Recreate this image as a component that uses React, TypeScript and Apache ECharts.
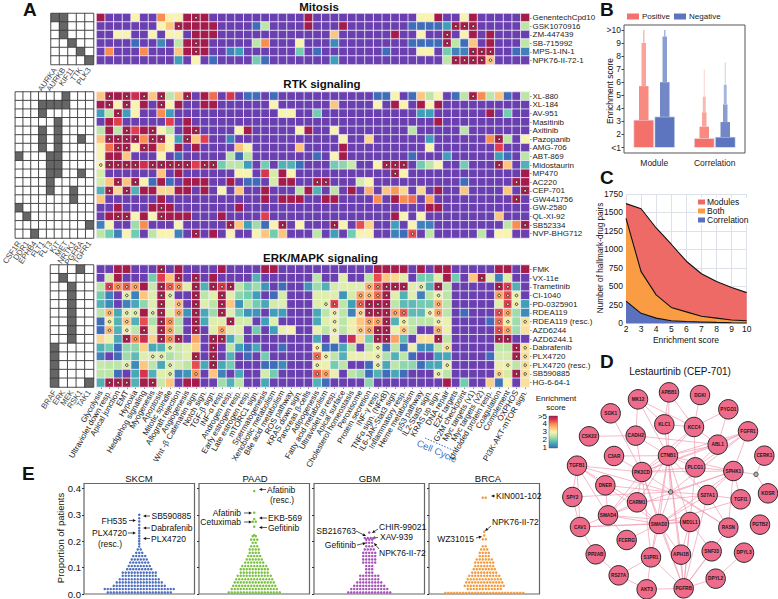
import React, { useEffect, useRef } from "react";
import * as echarts from "echarts";

const FONT = "Liberation Sans";

const hallmarks = ["Glycolysis","Ultraviolet down resp.","Apical junction","EMT","Hypoxia","Hedgehog signaling","Myogenesis","Apoptosis","Mitotic spindle","Allograft rejection","Angiogenesis","Wnt -β Catenanin sign.","Notch sign.","TGF-β sign.","INF-α resp.","Androgen resp.","Early estrogen resp.","Late estrogen resp.","mTORC1 sign.","Spermatogenesis","Xenobiotic metabolism","Bile acid metabolism","ROS pathway","KRAS down sign.","Pancreas β-cells","Adipogenesis","Fatty acid metabolism","Ultraviolet up resp.","Apical surface","Cholesterol homeostasis","Peroxisome","Protein secretion","INF-γ resp.","TNFα sign. (NFκB)","IL6-JAK-Stat3 sign.","Inflammatory resp.","Heme metabolism","p53 pathway","IL2-Stat5 sign.","KRAS up sign.","DNA repair","E2F targets","G2M checkpoint","Myc targets (v1)","Myc targets (v2)","Unfolded protein resp.","Coagulation","Complement","OXPHOS","PI3K-AKT-mTOR sign."];

const mitosisDrugs = ["GenentechCpd10","GSK1070916","ZM-447439","SB-715992","MPS-1-IN-1","NPK76-II-72-1"];
const rtkDrugs = ["XL-880","XL-184","AV-951","Masitinib","Axitinib","Pazopanib","AMG-706","ABT-869","Midostaurin","MP470","AC220","CEP-701","GW441756","GW-2580","QL-XI-92","SB52334","NVP-BHG712"];
const erkDrugs = ["FMK","VX-11e","Trametinib","CI-1040","PD-0325901","RDEA119","RDEA119 (resc.)","AZD6244","AZD6244.1","Dabrafenib","PLX4720","PLX4720 (resc.)","SB590885","HG-6-64-1"];

const mitosisGenes = ["AURKA","AURKB","KIF11","TTK","PLK3"];
const rtkGenes = ["CSF1R","DDR1","EPHB4","FLT1","FLT3","KIT","MET","NRTK1","PGFRA","TGFR1"];
const erkGenes = ["BRAF","ERK","MEK","RSK1","TAK1"];

// [row, column] of filled target cells
const mitosisTargets = [[0,0],[0,1],[1,1],[2,1],[3,2],[4,3],[5,4]];
const rtkTargets = [[0,6],[1,3],[1,4],[1,5],[1,6],[2,3],[3,5],[4,3],[4,5],[5,3],[5,5],[5,8],[6,3],[6,5],[7,0],[7,4],[7,5],[8,4],[8,5],[9,4],[9,5],[9,8],[10,4],[11,4],[11,7],[12,7],[13,0],[14,1],[15,9],[16,2]];
const erkTargets = [[0,3],[1,1],[2,2],[3,2],[4,2],[5,2],[6,2],[7,2],[8,2],[9,0],[10,0],[11,0],[12,0],[13,0],[13,4]];

// per row: [hallmark column, enrichment score]; cells not listed score below 1
const mitosisScores = [
  [[0,5],[4,3],[7,4],[8,3],[9,3],[10,5],[11,5],[12,5],[24,5],[37,3],[38,3],[39,5],[42,3],[43,5],[49,5]],
  [[7,3],[8,3.5],[9,5],[10,5],[11,5],[12,5],[13,5],[18,1],[19,2.5],[24,5],[28,5],[36,1],[37,1],[38,1],[39,1],[40,1.5],[41,5],[42,5],[43,5],[49,2.5]],
  [[2,3],[3,3],[6,3],[8,3],[9,3],[11,5],[12,5],[13,5],[27,3.5],[34,5],[37,3],[40,5],[42,3],[43,5],[45,5]],
  [[4,1],[7,1.3],[9,2.5],[10,5],[11,5],[12,5],[18,2.5],[19,4],[23,3],[27,1.3],[36,1],[37,1],[38,1],[39,1],[40,5],[41,2.5],[42,1],[43,3.5],[45,5],[49,2.5]],
  [[1,4],[5,4],[9,3.5],[10,5],[11,5],[12,5],[15,1.2],[16,1.5],[23,2],[25,1],[33,1],[37,3],[38,3],[40,2],[41,1.2],[42,1.2],[43,5],[44,5],[45,5],[48,1],[49,1.2]],
  [[9,1.5],[11,3],[13,1],[18,2],[19,1],[27,1.5],[40,2.5],[41,5],[42,5],[43,5],[44,5],[45,3.5]],
];
const rtkScores = [
  [[0,3.5],[1,5],[2,5],[3,5],[4,4.7],[5,5],[6,3.5],[7,5],[8,2.5],[9,3.5],[10,5],[12,5],[13,4.2],[15,4.6],[17,1],[18,1],[20,1],[32,1],[33,1],[34,3],[36,1],[37,3.5],[38,2.5],[39,3],[41,1],[42,2.5],[43,5],[44,4],[45,2.5],[46,3.5],[47,1],[49,2.5]],
  [[0,5],[1,5],[2,3],[3,5],[4,3],[5,5],[7,5],[8,3],[9,5],[12,5],[13,5],[20,3],[27,3.5],[32,3],[34,5],[35,3],[37,5],[38,3],[39,5]],
  [[0,1.5],[1,2.5],[2,5],[3,1.5],[4,3],[7,4],[8,1.5],[21,3],[22,3],[25,2],[37,1.5],[38,1.5],[45,5],[47,2]],
  [[1,5],[2,4.5],[8,4.5],[10,5],[39,5]],
  [[0,2.5],[1,5],[2,2.5],[3,5],[4,4.5],[5,5],[6,5],[7,3],[8,2.5],[10,5],[11,5],[16,3],[17,5],[23,3],[24,5],[27,3],[36,2.5],[42,2.5]],
  [[0,3.5],[1,5],[2,5],[3,5],[4,5],[5,4],[6,5],[7,5],[8,3],[9,1.5],[10,5],[11,3.5],[12,4.5],[15,1.2],[28,3],[31,3.3],[38,1.5],[45,4],[46,5],[47,2.5],[49,3]],
  [[0,3],[1,4.2],[2,5],[3,5],[4,3],[5,5],[6,5],[7,3.5],[8,3],[9,5],[11,5],[16,3.5],[17,3],[23,3.5],[28,5],[38,3],[46,4.5]],
  [[0,3],[1,5],[2,5],[3,3.5],[7,3],[9,1],[15,2.5],[16,1],[17,2.5],[25,1],[27,3],[28,5],[36,1],[40,1.5],[46,1.5],[47,1],[49,2.5]],
  [[0,3],[1,5],[2,5],[3,5],[4,5],[5,4.7],[6,5],[7,5],[8,5],[9,5],[10,5],[11,4.5],[12,5],[13,5],[14,2],[15,2.5],[16,2.5],[17,1.5],[19,2],[21,1.7],[22,1.7],[23,1],[27,2],[28,2.2],[29,2.6],[32,3],[33,5],[34,5],[35,5],[37,2],[38,2.5],[39,3],[42,2],[46,5],[47,3.5],[49,1.7]],
  [[0,2.7],[7,3.5],[9,5],[16,3],[17,3],[19,4.6],[20,2.7],[21,5],[22,3],[34,5],[35,3],[49,5]],
  [[0,2.7],[1,3.5],[2,5],[3,3.5],[4,5],[5,3],[6,1],[7,5],[8,1],[10,5],[11,5],[12,5],[15,5],[17,1],[18,1],[20,2.7],[21,5],[22,5],[25,5],[26,5],[30,2.7],[31,3],[42,1],[48,5],[49,5]],
  [[0,1.7],[1,5],[2,3.3],[3,5],[4,1.7],[5,5],[6,5],[7,3.3],[8,3.3],[9,5],[10,5],[12,5],[14,3],[16,3.5],[19,5],[23,2.5],[24,5],[25,1.7],[27,2.5],[29,5],[31,3.7],[33,3.5],[34,3.9],[35,3.3],[37,3.3],[39,5],[42,3.5],[47,3.5],[49,5]],
  [[0,3.5],[7,5],[19,5],[21,5],[22,5],[23,5],[26,5],[27,5],[32,4],[34,5],[35,4],[36,4.2],[38,3.8],[48,5]],
  [[2,5],[6,5],[7,5],[8,5],[16,5],[38,5],[39,5]],
  [[1,5],[2,5],[3,5],[4,3],[5,5],[6,3],[7,5],[8,5],[9,5],[10,5],[14,5],[19,4.5],[34,5],[35,3],[37,3],[46,3.5]],
  [[0,1.2],[1,3],[4,2.3],[5,4],[9,3],[15,5],[16,3.5],[17,1.5],[18,2.3],[19,1],[20,3],[21,5],[23,3],[27,5],[28,3],[30,4.4],[31,3.4],[34,1.5],[36,3],[37,1.2],[38,1.2],[47,2.5],[48,4],[49,5]],
  [[0,2.5],[1,2],[2,1.2],[3,3],[4,2],[6,2.5],[7,3],[8,3],[9,1.2],[11,5],[13,5],[15,3],[18,3],[19,3.5],[20,2],[21,3.5],[25,2.5],[27,1.5],[29,2],[30,3],[31,3],[34,1.2],[35,1],[36,4.4],[38,2.5],[44,2.5],[46,3],[47,3]],
];
const erkScores = [
  [[2,5],[3,5],[7,5],[9,5],[14,5],[19,5],[20,5],[32,5],[33,5],[34,5],[35,5],[37,5],[39,5],[40,5],[46,5],[47,5],[49,5]],
  [[1,2.7],[2,5],[6,2],[7,4.5],[8,3.5],[9,5],[11,5],[13,5],[18,1.7],[25,2.5],[28,2.8],[31,2.5],[32,4.4],[33,3.5],[34,3.3],[35,2.8],[37,2],[38,2],[39,2.8],[40,5],[41,2],[43,3.5],[44,5],[45,2.8],[46,1.2],[47,2.8]],
  [[0,2.5],[1,4.5],[2,4],[3,4.3],[4,3.8],[5,5],[6,2.6],[7,5],[8,4.3],[9,4],[10,2.8],[11,5],[12,1.7],[13,5],[14,4.6],[15,5],[16,2.5],[17,2],[18,2.3],[19,1.4],[21,1],[24,1.4],[25,2.3],[26,1.7],[27,2.7],[28,2.8],[29,2.8],[30,2.8],[31,3.7],[32,4.3],[33,5],[34,5],[35,5],[36,2.8],[37,2.8],[38,1.7],[39,5],[40,2.5],[46,5],[47,4.5],[48,1.7]],
  [[0,2],[1,1.2],[3,2.8],[4,1.2],[5,3.5],[6,2.8],[7,5],[8,2.8],[11,5],[12,2.5],[13,2.8],[14,5],[15,2.8],[16,2.2],[17,2],[18,1.5],[20,1],[21,2.7],[25,2.8],[26,2.8],[27,2.8],[28,1.4],[29,2.7],[30,3.8],[31,3.6],[32,4.2],[33,5],[34,2.8],[35,1.7],[36,2.8],[37,1.2],[38,2.5],[39,2.9],[40,2.5],[46,3.8],[47,4.4],[48,2.9]],
  [[0,1.7],[1,1.3],[3,1.2],[4,1.6],[5,2.2],[6,2.8],[7,5],[8,2.8],[9,3.6],[11,5],[12,2.8],[13,2.5],[14,5],[15,3.5],[16,1.4],[17,2.5],[18,2],[19,1.6],[20,2.7],[21,2.8],[25,2.8],[26,2.8],[27,4.5],[28,2.5],[29,1.5],[30,4.3],[31,5],[32,5],[33,5],[34,2.5],[35,1.8],[36,1.8],[37,2],[38,2],[39,3.7],[40,2.5],[46,2.8],[47,4.5],[48,2.9],[49,1.5]],
  [[0,2.5],[1,3.6],[2,1.6],[3,2.8],[4,2.8],[5,5],[6,2.8],[7,5],[8,2.8],[9,3.8],[10,1.4],[11,5],[12,1.6],[13,2.3],[14,5],[15,2.8],[16,2],[17,1.4],[18,1.4],[20,1.5],[21,1.5],[25,1.6],[26,2.5],[27,2.9],[28,2.5],[29,1.2],[30,3.3],[31,5],[32,5],[33,5],[34,3.8],[35,4.3],[36,1.8],[37,1.8],[38,2.9],[39,3.8],[40,2.5],[42,1],[46,4.4],[47,3.8],[48,2.3],[49,1.3]],
  [[0,1],[1,2.9],[2,1.7],[3,3.5],[4,1.7],[5,4.4],[6,2.4],[7,5],[8,4],[9,2.4],[11,5],[12,1.6],[13,2.8],[14,2.8],[15,5],[16,2.7],[17,2.7],[19,1.5],[20,2.8],[25,1.6],[26,2.8],[27,2.9],[28,2.5],[29,2.9],[30,3.5],[31,3.8],[32,3.8],[33,5],[34,1.7],[35,2.9],[36,2.5],[37,2.5],[38,2.5],[39,2.9],[40,2.9],[45,1],[46,4.2],[47,2.9],[48,2.3],[49,3.2]],
  [[0,1],[1,3.6],[2,1.7],[3,2.9],[4,2.5],[5,5],[6,2.8],[7,5],[8,3.8],[9,2.5],[11,5],[13,2.8],[14,3.8],[15,2.8],[16,2.8],[18,2],[20,1.5],[21,2.9],[22,3],[25,2.9],[26,2.5],[27,2.9],[28,2.5],[29,2.9],[30,3.5],[31,3.8],[32,5],[33,5],[34,2.9],[35,3.5],[36,2.5],[39,3.7],[40,2.9],[46,4.4],[47,3.8],[48,2.3],[49,3.2]],
  [[0,3.3],[1,2.9],[2,1.6],[3,5],[4,4],[5,4.7],[6,3.4],[7,5],[8,4],[9,5],[11,3.8],[13,5],[14,5],[15,1.6],[16,2.5],[25,1.6],[27,2.9],[29,4.7],[30,3.3],[31,2],[32,5],[33,5],[34,3.8],[35,1.8],[37,3.2],[38,3.2],[39,5],[40,2.5],[46,5],[47,5]],
  [[0,1.7],[1,2],[2,1],[3,2.2],[4,2.2],[5,3.4],[6,1.6],[7,1.7],[8,2.8],[9,2.6],[10,2.8],[11,3.4],[13,5],[15,2.5],[16,1.5],[17,1],[18,1.6],[21,1],[25,3],[26,1],[27,1],[28,1.6],[29,2.5],[31,2.5],[32,2.9],[33,1],[34,2.5],[35,1],[36,2.9],[37,1.3],[38,1.3],[39,2.5],[40,3.2],[46,2.5],[47,2.5],[48,5],[49,3.2]],
  [[0,1.2],[2,1],[3,2.3],[4,1.8],[5,2.8],[6,2.8],[7,2.8],[8,2.4],[9,2.6],[10,2.8],[11,5],[13,5],[15,1.7],[17,1],[19,2],[25,4.2],[26,2.9],[27,2.5],[28,1.7],[29,2.9],[30,2.9],[31,2.9],[32,2.9],[33,2.4],[34,1.7],[35,2.5],[36,1],[39,1.5],[40,1.6],[45,1],[46,2.7],[47,2.7],[48,5],[49,3.2]],
  [[0,2.6],[1,2.5],[2,2.5],[3,2.8],[4,1.3],[5,3.5],[6,2.5],[7,1.6],[8,2.8],[9,2.7],[10,2.5],[11,4.4],[12,1.6],[13,5],[14,1.6],[15,2],[19,1],[20,1],[21,1.3],[25,2.9],[26,2.9],[27,2],[28,2.5],[31,1],[32,2.9],[33,1.6],[34,2.5],[35,2.2],[36,2.2],[37,1],[38,1.6],[39,1.6],[40,2.9],[46,2.9],[47,2.9],[48,2.5],[49,3.2]],
  [[0,2.5],[1,2.5],[2,1],[4,1.6],[5,4.6],[6,1.7],[7,2.8],[8,2.8],[9,1.2],[10,1.4],[11,3.9],[13,3.5],[14,1.2],[16,1.6],[19,2.7],[20,2],[25,4.3],[26,3.8],[27,2.9],[29,2.5],[30,2.3],[31,1],[32,1.7],[33,1],[34,1.6],[35,1],[39,2.9],[40,2.5],[46,3.3],[47,2.7],[48,5],[49,3.2]],
  [[0,1.7],[1,5],[2,5],[3,5],[4,1.7],[5,5],[6,5],[7,2.6],[8,3.5],[10,5],[11,5],[14,2.3],[15,1.7],[16,2.5],[19,1.6],[25,1.7],[26,1],[31,2.2],[40,5],[42,2],[45,3.4],[46,1.1],[47,3],[49,3.2]],
];

// significant hits: per row, the columns carrying a dot
const mitosisHits = [[11],[9,41,42,43],[40],[11,40],[11,43,44,45],[41,42,43,44,45]];
const rtkHits = [[1,3,5,7,10,43],[1,3,7],[2],[],[3,6,11],[1,2,3,4,6,7,10,46],[2,3,5],[],[0,1,2,3,4,6,7,8,9,10,12,13,33,34,35,46],[34],[2,4,25,26,48],[1,3,49],[48],[7],[2,3,7],[15,21,27,49],[11,36]];
const erkHits = [[7],[9,11,44],[1,2,3,4,7,8,9,11,13,14,15,31,32,33,34,35,37,39,46,47],[3,7,8,11,14,30,31,32,33,39,46,47,48],[7,9,11,14,26,27,30,31,32,33,39,47,48],[1,3,4,6,7,9,11,14,27,30,31,32,33,34,35,38,39,46,47],[1,3,7,8,11,15,27,31,32,33,35,39,46,47,49],[1,3,5,7,8,11,14,27,30,31,32,33,35,39,46,47],[3,4,7,8,9,13,14,32,33,39,46,47],[8,13,25,32,40,48,49],[6,7,11,13,25,26,32,48,49],[3,8,13,25,32,40,47,49],[8,11,25,26,39,46,48,49],[1,2,3,6]];

// Panel B: upper edge of each nested box, starting from 1
const bGroups = ["Module","Correlation"];
const modulePositive = [3.1,5.7,9,10];
const moduleNegative = [3.35,6,9.5,10];
const correlationPositive = [1.7,2.6,3.7,4.9,7];
const correlationNegative = [1.8,2.95,4.3,5.8,7.5];

// Panel C
const scoreSteps = [2,3,4,5,6,7,8,9,10];
const modulesPairs = [1620,1550,1290,1070,840,670,565,485,415];
const bothPairs = [1420,700,385,215,155,95,70,45,35];
const correlationPairs = [300,135,70,35,25,18,12,8,5];

// Panel D
const networkNodes: [string, number, number][] = [["APBB1",447,142],["DGKI",540,150],["MK12",354,163],["PYGO1",625,193],["SGK1",272,205],["KLC1",433,238],["KCC4",522,246],["FGFR1",684,259],["CSK22",207,274],["CADH2",347,272],["ABL1",593,299],["CERK1",733,332],["C3AR",282,333],["CTNB1",444,332],["TGFB1",171,362],["PK3CD",366,381],["PLCG1",526,367],["SPHK1",640,378],["DNER",256,421],["S27A1",563,450],["KDSR",744,445],["SPY2",157,456],["TGFI1",662,463],["CARM1",351,472],["SMAD4",264,511],["MD1L1",510,531],["SMAD2",417,537],["CAV1",180,546],["RASN",625,548],["PGTB2",720,539],["FCERG",320,585],["SNF23",575,619],["DPYL3",672,623],["APH1B",483,629],["S1PR1",393,637],["PP2AB",227,628],["RS27A",296,691],["DPYL2",587,701],["AKT3",380,733],["PGFRB",491,730]];
const networkHubs: [string, number, number][] = [["hubA",452,441],["hubB",708,388]];
const networkEdges = ["MK12-CADH2","MK12-KLC1","MK12-KCC4","MK12-CTNB1","APBB1-KLC1","APBB1-KCC4","APBB1-CTNB1","DGKI-KCC4","PYGO1-KCC4","PYGO1-ABL1","KLC1-KCC4","KLC1-CTNB1","KCC4-CTNB1","KCC4-ABL1","KCC4-PLCG1","KCC4-PK3CD","FGFR1-ABL1","FGFR1-CTNB1","FGFR1-PLCG1","FGFR1-SPHK1","FGFR1-PK3CD","ABL1-CTNB1","ABL1-PLCG1","ABL1-PK3CD","ABL1-CADH2","CADH2-CTNB1","CADH2-PK3CD","CADH2-CSK22","SGK1-PK3CD","C3AR-CTNB1","C3AR-PK3CD","CTNB1-PK3CD","CTNB1-PLCG1","CTNB1-SPHK1","CTNB1-S27A1","CTNB1-MD1L1","CTNB1-SMAD2","CTNB1-CARM1","CTNB1-SMAD4","CTNB1-PGFRB","CTNB1-APH1B","CTNB1-hubA","TGFB1-PK3CD","TGFB1-SPY2","TGFB1-CAV1","TGFB1-SMAD4","TGFB1-SMAD2","TGFB1-CARM1","TGFB1-hubA","PK3CD-PLCG1","PK3CD-SPHK1","PK3CD-SMAD2","PK3CD-CARM1","PK3CD-SMAD4","PK3CD-S1PR1","PK3CD-RASN","PK3CD-PGFRB","PLCG1-SPHK1","PLCG1-PGFRB","SPHK1-hubB","hubB-CERK1","hubB-KDSR","SPHK1-S27A1","SPHK1-TGFI1","SPHK1-RASN","SPHK1-SMAD2","SPHK1-SMAD4","DNER-SMAD4","DNER-hubA","SPY2-hubA","SPY2-CAV1","CARM1-SMAD4","CARM1-SMAD2","CARM1-S27A1","SMAD4-SMAD2","SMAD4-MD1L1","SMAD4-CAV1","SMAD4-FCERG","CAV1-SMAD2","CAV1-MD1L1","CAV1-PP2AB","PP2AB-RS27A","RS27A-AKT3","AKT3-PGFRB","AKT3-S1PR1","RS27A-S1PR1","S1PR1-PGFRB","S1PR1-SMAD2","S1PR1-CTNB1","APH1B-PGFRB","APH1B-SMAD2","MD1L1-SMAD2","MD1L1-PGFRB","MD1L1-APH1B","S27A1-PGFRB","S27A1-RASN","RASN-PGFRB","RASN-hubA","SNF23-PGFRB","SNF23-MD1L1","DPYL2-PGFRB","DPYL3-DPYL2","TGFI1-S27A1","TGFI1-SMAD2","SMAD2-PGFRB","SMAD2-S27A1","FCERG-SMAD2","hubA-S27A1","hubA-SMAD2","hubA-SPHK1","hubA-FGFR1"];

// Panel E: [proportion of patients, number of hallmark-drug pairs at that proportion]
const skcmLevels = [[0.006,22],[0.019,24],[0.031,18],[0.044,16],[0.056,14],[0.069,12],[0.081,12],[0.094,9],[0.106,8],[0.119,7],[0.131,6],[0.144,5],[0.156,3],[0.169,2],[0.18,1],[0.19,1],[0.2,1],[0.21,1],[0.22,1],[0.23,1],[0.24,1],[0.25,1],[0.262,1],[0.275,1],[0.287,1],[0.3,1]];
const paadLevels = [[0.006,18],[0.019,16],[0.031,15],[0.044,14],[0.056,13],[0.069,12],[0.081,10],[0.094,10],[0.106,9],[0.119,7],[0.131,6],[0.144,5],[0.156,4],[0.169,4],[0.181,3],[0.194,2],[0.206,3],[0.219,2],[0.2235,1],[0.255,1],[0.274,2],[0.284,1],[0.308,1],[0.39,1]];
const gbmLevels = [[0.006,15],[0.019,13],[0.031,11],[0.044,9],[0.056,7],[0.069,7],[0.081,3],[0.094,3],[0.106,3],[0.119,5],[0.131,5],[0.144,5],[0.156,5],[0.169,4],[0.181,3],[0.194,3],[0.206,3],[0.212,4],[0.233,1]];
const brcaLevels = [[0.004,27],[0.019,12],[0.031,14],[0.044,13],[0.056,12],[0.069,11],[0.081,9],[0.094,8],[0.106,7],[0.119,7],[0.131,6],[0.144,4],[0.156,4],[0.169,3],[0.181,2],[0.207,2],[0.222,1],[0.236,1],[0.365,2]];

const scoreColors = ["#6a3fb0","#5a50b2","#3f6db8","#3f9fb8","#72ccb0","#bce6a6","#f8f3ae","#fdc67c","#f98d50","#e23d4e","#a51c4b"];

const scoreCells = (rows: number[][][]) => rows.flatMap((pairs, r) => {
  const cells = new Array(hallmarks.length).fill(0);
  pairs.forEach(([c, v]) => { cells[c] = v; });
  return cells.map((v, c) => [c, r, v]);
});
const targetCells = (targets: number[][], nRows: number, nCols: number) => {
  const out: number[][] = [];
  for (let r = 0; r < nRows; r++) for (let c = 0; c < nCols; c++) {
    out.push([c, r, targets.some((t) => t[0] === r && t[1] === c) ? 1 : 0]);
  }
  return out;
};
const hitPoints = (hits: number[][]) => hits.flatMap((cols, r) => cols.map((c) => [c, r]));
const swarm = (levels: number[][]) => levels.flatMap(([y, n]) => {
  const out: number[][] = [];
  for (let i = 0; i < n; i++) out.push([(i - (n - 1) / 2) * 3, y]);
  return out;
});
const nestedBoxes = (group: number, tops: number[]) => tops.map((t, i) => [group, i === 0 ? 1 : tops[i - 1], t, i]);

const txt = (text: string, x: number, y: number, o: any = {}) => ({
  type: "text", x, y, rotation: o.rotation || 0, silent: true,
  style: { text, fill: o.fill || "#111", fontSize: o.size || 8.5, fontWeight: o.weight || "normal", fontFamily: FONT, align: o.align || "left", verticalAlign: "middle" },
});
const arrow = (x1: number, y1: number, x2: number, y2: number) => {
  const a = Math.atan2(y2 - y1, x2 - x1), h = 3.2, w = 1.5;
  const bx = x2 - Math.cos(a) * h, by = y2 - Math.sin(a) * h;
  return [
    { type: "line", silent: true, shape: { x1, y1, x2: bx, y2: by }, style: { stroke: "#111", lineWidth: 0.7 } },
    { type: "polygon", silent: true, shape: { points: [[x2, y2], [bx - Math.sin(a) * w, by + Math.cos(a) * w], [bx + Math.sin(a) * w, by - Math.cos(a) * w]] }, style: { fill: "#111" } },
  ];
};

const graphics: any[] = [
  txt("A", 23, 9, { size: 19, weight: "bold", align: "left" }),
  txt("B", 600, 9, { size: 19, weight: "bold" }),
  txt("C", 600, 177, { size: 19, weight: "bold" }),
  txt("D", 600, 361, { size: 19, weight: "bold" }),
  txt("E", 22, 473, { size: 19, weight: "bold" }),
  txt("Enrichment", 556, 398, { size: 8, align: "center" }),
  txt("score", 556, 407.5, { size: 8, align: "center" }),
  { type: "rect", silent: true, shape: { x: 549, y: 416, width: 8.5, height: 32 }, style: { stroke: "#444", lineWidth: 0.4, fill: new echarts.graphic.LinearGradient(0, 1, 0, 0, [0,0.12,0.25,0.37,0.5,0.62,0.75,0.87,1].map((o, i) => ({ offset: o, color: scoreColors[i + 2] }))) } },
  txt(">5", 547, 416, { size: 8, align: "right" }),
  txt("4", 547, 423.5, { size: 8, align: "right" }),
  txt("3", 547, 431.5, { size: 8, align: "right" }),
  txt("2", 547, 439.5, { size: 8, align: "right" }),
  txt("1", 547, 447.5, { size: 8, align: "right" }),
  txt("Cell Cycle", 437, 451, { size: 9.5, fill: "#3f6fc2", align: "center", rotation: -24 * Math.PI / 180 }),
  { type: "line", silent: true, shape: { x1: 425, y1: 438, x2: 457, y2: 452 }, style: { stroke: "#2f5fb8", lineWidth: 0.9, lineDash: [1.6, 1.4] } },
  txt("Enrichment score", 610, 91, { size: 8.5, align: "center", rotation: Math.PI / 2 }),
  txt("Number of hallmark-drug pairs", 600, 258, { size: 8.2, align: "center", rotation: Math.PI / 2 }),
  txt("Enrichment score", 686, 340, { size: 8.5, align: "center" }),
  txt("Proportion of patients", 60, 538, { size: 9.5, align: "center", rotation: Math.PI / 2 }),
  // SKCM notes
  txt("SB590885", 151.5, 516), ...arrow(150, 516, 143, 516),
  txt("FH535", 127, 520.5, { align: "right" }), ...arrow(129, 520.5, 136, 520.5),
  txt("Dabrafenib", 151, 528), ...arrow(150, 528, 143, 528),
  txt("PLX4720", 127, 533, { align: "right" }), ...arrow(128, 533, 136, 533),
  txt("(resc.)", 110, 543.5, { align: "center" }),
  txt("PLX4720", 151, 538.5), ...arrow(150, 538.5, 143, 538.5),
  // PAAD notes
  txt("Afatinib", 241, 513, { align: "right" }), ...arrow(244, 513, 252, 513),
  txt("Cetuximab", 241, 522, { align: "right" }), ...arrow(244, 522, 252, 522),
  txt("Afatinib", 267, 489.5), ...arrow(266, 489.5, 259, 489.5),
  txt("(resc.)", 270, 500),
  txt("EKB-569", 268, 518), ...arrow(267, 518, 259, 518),
  txt("Gefitinib", 268, 527.5), ...arrow(267, 527.5, 259, 527.5),
  // GBM notes
  txt("SB216763", 356, 531, { align: "right" }), ...arrow(356, 531, 366, 536),
  txt("CHIR-99021", 379, 527), ...arrow(378, 529, 372, 533),
  txt("XAV-939", 380, 537), ...arrow(378, 537.5, 372, 538),
  txt("Gefitinib", 356, 545, { align: "right" }), ...arrow(357, 545, 366, 543),
  txt("NPK76-II-72", 379, 552.5), ...arrow(379, 549, 374, 543),
  // BRCA notes
  txt("KIN001-102", 496, 496), ...arrow(495, 496, 491, 496),
  txt("NPK76-II-72", 492, 522), ...arrow(491, 526, 485, 531),
  txt("WZ31015", 474, 539, { align: "right" }), ...arrow(476, 538, 482, 536.5),
];

const titles = [
  ["Mitosis", 319, 1, 11.5, "bold"], ["RTK signaling", 322, 78, 11.5, "bold"], ["ERK/MAPK signaling", 320.5, 252, 11.5, "bold"],
  ["Lestaurtinib (CEP-701)", 680, 366, 10, "normal"],
  ["SKCM", 139, 473, 9.5, "normal"], ["PAAD", 255, 473, 9.5, "normal"], ["GBM", 369.5, 473, 9.5, "normal"], ["BRCA", 488, 473, 9.5, "normal"],
].map(([text, left, top, fontSize, fontWeight]) => ({ text, left, top, textAlign: "center", padding: 0, textStyle: { fontFamily: FONT, fontSize, fontWeight, color: "#111" } }));

const heatBoxes = [
  { left: 96.5, top: 13.5, width: 433, height: 51 },
  { left: 96.5, top: 92, width: 433, height: 146 },
  { left: 96.5, top: 265, width: 433, height: 122 },
];
const geneBoxes = [
  { left: 51, top: 13.5, width: 42.5, height: 51 },
  { left: 7.5, top: 92, width: 86, height: 146 },
  { left: 50.5, top: 265, width: 43, height: 122 },
];
const swarmLefts = [84, 199, 314, 429];
const swarmSets = [skcmLevels, paadLevels, gbmLevels, brcaLevels];
const swarmColors = ["#4f70bf", "#7cc242", "#a654b9", "#f59b3f"];
const drugLists = [mitosisDrugs, rtkDrugs, erkDrugs];
const geneLists = [mitosisGenes, rtkGenes, erkGenes];

const offPanel = { show: false };

const option: any = {
  animation: false,
  backgroundColor: "#fff",
  textStyle: { fontFamily: FONT },
  title: titles,
  graphic: graphics,
  grid: [
    ...heatBoxes,
    ...geneBoxes,
    { left: 624, top: 25, width: 121, height: 128, show: true, borderColor: "#555", borderWidth: 1, backgroundColor: "#fff" },
    { left: 626, top: 194, width: 120.7, height: 129.3 },
    { left: 520, top: 345, width: 258, height: 254 },
    ...swarmLefts.map((left) => ({ left, top: 483.5, width: 110.5, height: 110.5, show: true, borderColor: "#666", borderWidth: 1.2 })),
  ],
  xAxis: [
    ...drugLists.map((_, i) => ({
      type: "category", gridIndex: i, data: hallmarks, show: i === 2, position: "bottom",
      axisLine: offPanel, axisTick: { show: true, length: 2, alignWithLabel: true, lineStyle: { color: "#333", width: 0.6 } },
      axisLabel: { rotate: 60, interval: 0, fontSize: 8, color: "#222", margin: 4, fontFamily: FONT },
    })),
    ...geneLists.map((g, i) => ({
      type: "category", gridIndex: 3 + i, data: g, position: "bottom",
      axisLine: offPanel, axisTick: offPanel,
      axisLabel: { rotate: 55, interval: 0, fontSize: 7.8, color: "#444", margin: 4, fontFamily: FONT },
    })),
    { type: "category", gridIndex: 6, data: bGroups, axisLine: offPanel, axisTick: offPanel, axisLabel: { fontSize: 8.5, color: "#222", margin: 5 } },
    { type: "value", gridIndex: 7, min: 2, max: 10, interval: 1, axisLine: offPanel, axisTick: offPanel, axisLabel: { fontSize: 8.5, color: "#111", margin: 1.5 }, splitLine: { show: true, lineStyle: { color: "#dde2ea", width: 1 } } },
    { type: "value", gridIndex: 8, min: 0, max: 774, show: false },
    ...swarmLefts.map((_, i) => ({ type: "value", gridIndex: 9 + i, min: -55.25, max: 55.25, show: false })),
  ],
  yAxis: [
    ...drugLists.map((d, i) => ({
      type: "category", gridIndex: i, data: d, inverse: true, position: "right",
      axisLine: offPanel, axisTick: { show: true, length: 2, alignWithLabel: true, lineStyle: { color: "#333", width: 0.6 } },
      axisLabel: { interval: 0, fontSize: 8, color: "#222", margin: 3, fontFamily: FONT },
    })),
    ...drugLists.map((d, i) => ({ type: "category", gridIndex: 3 + i, data: d, inverse: true, show: false })),
    {
      type: "value", gridIndex: 6, min: 0.58, max: 10.38,
      axisLine: offPanel, axisTick: { show: true, length: 2.5, customValues: [1,2,3,4,5,6,7,8,9,10], lineStyle: { color: "#444" } },
      axisLabel: { fontSize: 8.5, color: "#222", margin: 3, customValues: [1,2,3,4,5,6,7,8,9,10], formatter: (v: number) => (v === 1 ? "<1" : v === 10 ? ">10" : String(v)) },
      splitLine: offPanel,
    },
    { type: "value", gridIndex: 7, min: 0, max: 1750, interval: 250, axisLine: offPanel, axisTick: offPanel, axisLabel: { fontSize: 8.5, color: "#111", margin: 3, formatter: (v: number) => String(v) }, splitLine: { show: true, lineStyle: { color: "#dde2ea", width: 1 } } },
    { type: "value", gridIndex: 8, min: 0, max: 762, inverse: true, show: false },
    ...swarmLefts.map((_, i) => ({
      type: "value", gridIndex: 9 + i, min: 0, max: 0.4186, position: "left",
      axisLine: { show: false, onZero: false }, axisTick: { show: true, length: 2, customValues: [0, 0.1, 0.2, 0.3, 0.4], lineStyle: { color: "#333" } },
      axisLabel: { show: i === 0, fontSize: 9.5, color: "#111", margin: 3, customValues: [0, 0.1, 0.2, 0.3, 0.4], formatter: (v: number) => v.toFixed(1) },
      splitLine: offPanel,
    })),
  ],
  visualMap: [
    { type: "continuous", show: false, min: 0, max: 5, dimension: 2, seriesIndex: [0, 1, 2], inRange: { color: scoreColors } },
    { type: "continuous", show: false, min: 0, max: 1, dimension: 2, seriesIndex: [3, 4, 5], inRange: { color: ["#ffffff", "#666666"] } },
  ],
  legend: [
    { data: ["Positive", "Negative"], left: 627, top: 12.5, itemWidth: 12, itemHeight: 6, itemGap: 4, padding: 0, textStyle: { fontSize: 8, fontFamily: FONT, color: "#222", padding: [0, 0, 0, -2] }, icon: "rect" },
    { data: ["Modules", "Both", "Correlation"], left: 697, top: 197.5, orient: "vertical", itemWidth: 7, itemHeight: 5, itemGap: 0, padding: [0, 1, 0, 1], backgroundColor: "#fff", textStyle: { fontSize: 8.5, fontFamily: FONT, color: "#111", padding: [0, 0, 0, -3] }, icon: "rect" },
  ],
  series: [
    ...[mitosisScores, rtkScores, erkScores].map((rows, i) => ({
      type: "heatmap", name: "score" + i, xAxisIndex: i, yAxisIndex: i, data: scoreCells(rows), progressive: 0,
      itemStyle: { borderColor: "#f4f0fb", borderWidth: 0.8 }, emphasis: { disabled: true },
    })),
    ...[mitosisTargets, rtkTargets, erkTargets].map((t, i) => ({
      type: "heatmap", name: "target" + i, xAxisIndex: 3 + i, yAxisIndex: 3 + i, data: targetCells(t, drugLists[i].length, geneLists[i].length), progressive: 0,
      itemStyle: { borderColor: "#3c3c3c", borderWidth: 0.9 }, emphasis: { disabled: true },
    })),
    ...[mitosisHits, rtkHits, erkHits].map((h, i) => ({
      type: "scatter", name: "hit" + i, xAxisIndex: i, yAxisIndex: i, data: hitPoints(h), symbol: "circle", symbolSize: 2.6, z: 5,
      itemStyle: { color: "#f7efcf", borderColor: "#1d1d1d", borderWidth: 0.8, opacity: 1 }, silent: true,
    })),
    ...[
      { name: "Positive", color: ["#f4716b","#f98a80","#f9a39a","#f8bab2","#fad2cc"], side: -1, boxes: [...nestedBoxes(0, modulePositive), ...nestedBoxes(1, correlationPositive)] },
      { name: "Negative", color: ["#5d74be","#7288c6","#8b9ed1","#a8b6dc","#c6d0e8"], side: 1, boxes: [...nestedBoxes(0, moduleNegative), ...nestedBoxes(1, correlationNegative)] },
    ].map((s) => ({
      type: "custom", name: s.name, xAxisIndex: 6, yAxisIndex: 6, data: s.boxes, encode: { x: 0, y: [1, 2] },
      itemStyle: { color: s.color[0] },
      renderItem: (_: any, api: any) => {
        const level = api.value(3);
        const group = api.value(0);
        const widths = group === 0 ? [20, 9.5, 4.5, 1.5] : [20, 9.5, 4.5, 3, 1];
        const low = api.coord([group, api.value(1)]);
        const high = api.coord([group, api.value(2)]);
        const w = widths[level];
        const cx = low[0] + s.side * 10.5;
        return { type: "rect", shape: { x: cx - w / 2, y: high[1], width: w, height: low[1] - high[1] }, style: { fill: s.color[level], stroke: "#e9edf5", lineWidth: level === 0 ? 0.7 : 0 } };
      },
    })),
    ...[
      { name: "Modules", values: modulesPairs, color: "#ee6a66" },
      { name: "Both", values: bothPairs, color: "#f99c44" },
      { name: "Correlation", values: correlationPairs, color: "#5a72bd" },
    ].map((s) => ({
      type: "line", name: s.name, xAxisIndex: 7, yAxisIndex: 7, symbol: "none", data: scoreSteps.map((x, i) => [x, s.values[i]]),
      lineStyle: { color: "#111", width: 1.1 }, itemStyle: { color: s.color }, areaStyle: { color: s.color, opacity: 1 },
    })),
    {
      type: "graph", name: "network", coordinateSystem: "cartesian2d", xAxisIndex: 8, yAxisIndex: 8, layout: "none", silent: true,
      symbol: "circle",
      data: [
        ...networkNodes.map(([name, x, y]) => ({ name, value: [x, y], symbolSize: 19.5, itemStyle: { color: "#ee6b8b", borderColor: "#1a1a1a", borderWidth: 0.9 }, label: { show: true, formatter: "{b}", fontSize: 4.7, fontWeight: "bold", color: "#1a1a1a", fontFamily: FONT } })),
        ...networkHubs.map(([name, x, y]) => ({ name, value: [x, y], symbolSize: 4.5, itemStyle: { color: "#a8b5a8", borderColor: "#222", borderWidth: 0.7 }, label: { show: false } })),
      ],
      links: networkEdges.map((e) => { const [source, target] = e.split("-"); return { source, target }; }),
      lineStyle: { color: "#f09ab2", width: 0.7, opacity: 1, curveness: 0 },
      z: 3,
    },
    ...swarmSets.map((levels, i) => ({
      type: "scatter", name: ["SKCM", "PAAD", "GBM", "BRCA"][i], xAxisIndex: 9 + i, yAxisIndex: 9 + i, data: swarm(levels), symbol: "circle", symbolSize: 2.5,
      itemStyle: { color: swarmColors[i], opacity: 1 }, silent: true,
    })),
  ],
};

export default function App() {
  const ref = useRef<HTMLDivElement>(null);
  useEffect(() => {
    const chart = echarts.init(ref.current!, undefined, { renderer: "svg", width: 778, height: 599 });
    chart.setOption(option);
    return () => chart.dispose();
  }, []);
  return <div ref={ref} style={{ position: "absolute", left: 0, top: 0, width: 778, height: 599 }} />;
}
